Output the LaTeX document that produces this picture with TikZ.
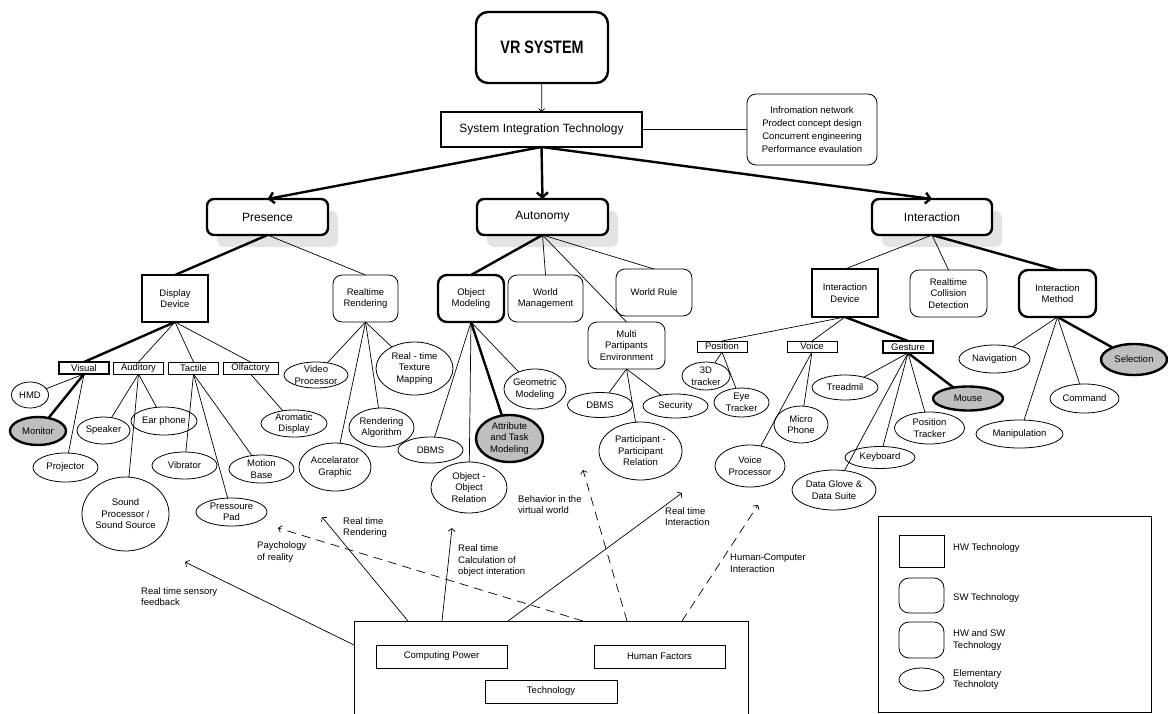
\documentclass[tikz,border=0pt]{standalone}
\usepackage{fontspec}
\setmainfont{Liberation Sans}
\newfontfamily\vrfont[FakeStretch=0.8]{Liberation Sans}
\usetikzlibrary{shapes.geometric,arrows.meta,shadows,positioning}

\tikzset{
  base/.style={inner sep=0pt, outer sep=0pt, align=center, font=\fontsize{9.5}{11.5}\selectfont},
  hw/.style={base, draw, rectangle, line width=0.8pt},
  hwthick/.style={hw, line width=2.4pt},
  sw/.style={base, draw, rectangle, rounded corners=9pt, line width=0.8pt},
  swthick/.style={sw, line width=2.4pt},
  sector/.style={swthick, fill=white, rounded corners=7pt, minimum width=121pt, minimum height=36pt,
    font=\fontsize{12}{14}\selectfont,
    general shadow={fill=black!11, shadow xshift=10pt, shadow yshift=-12pt}},
  sense/.style={hw, minimum width=50pt, minimum height=12pt},
  elem/.style={base, draw, ellipse, line width=0.8pt, inner xsep=-2pt, inner ysep=-5pt},
  keyelem/.style={elem, fill=black!25, line width=2.4pt},
  link/.style={line width=0.7pt},
  keylink/.style={line width=2.4pt},
  flow/.style={line width=0.7pt, -{Straight Barb[length=3pt,width=7pt]}},
  wish/.style={flow, dash pattern=on 9pt off 6pt},
  lbl/.style={anchor=west, align=left, inner sep=0pt, font=\fontsize{9.5}{11.5}\selectfont}
}

\begin{document}
\begin{tikzpicture}[x=1pt, y=-1pt]
\useasboundingbox (0,0) rectangle (1168,713);

% Top levels
\node[swthick, rounded corners=12pt, minimum width=132pt, minimum height=71pt,
  font=\vrfont\bfseries\fontsize{18}{20}\selectfont] (vr) at (542,47.5) {VR SYSTEM};
\node[hwthick, minimum width=201pt, minimum height=35pt, font=\fontsize{12}{14}\selectfont]
  (sit) at (541.5,129.5) {System Integration Technology};
\node[sw, minimum width=130pt, minimum height=71pt, font=\fontsize{9.5}{13}\selectfont]
  (info) at (812,129.5) {Infromation network\\Prodect concept design\\Concurrent engineering\\Performance evaulation};

\node[sector] (presence) at (267.5,217) {Presence};
\node[sector, minimum width=131pt] (autonomy) at (542.5,217) {Autonomy};
\node[sector, minimum width=120pt] (interaction) at (932,217) {Interaction};

% Technologies
\node[hwthick, minimum width=66pt, minimum height=47pt] (display) at (175,298.5) {Display\\Device};
\node[sw, minimum width=65pt, minimum height=47pt] (rrender) at (365.5,298.5) {Realtime\\Rendering};
\node[swthick, minimum width=66pt, minimum height=47pt] (objmod) at (471,298.5) {Object\\Modeling};
\node[sw, minimum width=75pt, minimum height=47pt] (worldman) at (545.5,298.5) {World\\Management};
\node[sw, minimum width=76pt, minimum height=47pt] (worldrule) at (654,292.5) {World Rule};
\node[sw, minimum width=77pt, minimum height=47pt] (multi) at (626.5,345.5) {Multi\\Partipants\\Environment};
\node[hwthick, minimum width=66pt, minimum height=48pt] (intdev) at (845,293) {Interaction\\Device};
\node[sw, minimum width=77pt, minimum height=47pt] (collision) at (948.5,293.5) {Realtime\\Collision\\Detection};
\node[swthick, minimum width=77pt, minimum height=47pt] (intmeth) at (1057.5,293.5) {Interaction\\Method};

% Senses and channels
\node[sense, line width=2pt] (visual) at (84,368) {Visual};
\node[sense] (auditory) at (138.5,368) {Auditory};
\node[sense] (tactile) at (193.5,368) {Tactile};
\node[sense, minimum width=55pt] (olfactory) at (250.5,368) {Olfactory};
\node[sense, minimum height=11pt] (position) at (722,346.5) {Position};
\node[sense, minimum height=11pt] (voice) at (812,346.5) {Voice};
\node[sense, line width=2pt] (gesture) at (908,347) {Gesture};

% Elementary technologies
\node[elem, minimum width=37pt, minimum height=26pt] (hmd) at (30,395) {HMD};
\node[keyelem, minimum width=56pt, minimum height=28pt] (monitor) at (38,431) {Monitor};
\node[elem, minimum width=65pt, minimum height=29pt] (projector) at (65.5,467.5) {Projector};
\node[elem, minimum width=53pt, minimum height=27pt] (speaker) at (103.5,430.5) {Speaker};
\node[elem, minimum width=66pt, minimum height=28pt] (earphone) at (164,421) {Ear phone};
\node[elem, minimum width=87pt, minimum height=74pt] (soundproc) at (125.5,514) {Sound\\Processor /\\Sound Source};
\node[elem, minimum width=65pt, minimum height=27pt] (vibrator) at (184.5,465.5) {Vibrator};
\node[elem, minimum width=71pt, minimum height=28pt] (pressoure) at (231.5,512) {Pressoure\\Pad};
\node[elem, minimum width=65pt, minimum height=28pt] (motionbase) at (261.5,469) {Motion\\Base};
\node[elem, minimum width=66pt, minimum height=27pt] (aromatic) at (294,423.5) {Aromatic\\Display};
\node[elem, minimum width=64pt, minimum height=26pt] (videoproc) at (316,375) {Video\\Processor};
\node[elem, minimum width=77pt, minimum height=53pt] (texture) at (414.5,368.5) {Real - time\\Texture\\Mapping};
\node[elem, minimum width=65pt, minimum height=39pt] (renderalg) at (381.5,427.5) {Rendering\\Algorithm};
\node[elem, minimum width=72pt, minimum height=48pt] (accel) at (335,467) {Accelarator\\Graphic};
\node[elem, minimum width=65pt, minimum height=26pt] (dbmsobj) at (430.5,450) {DBMS};
\node[elem, minimum width=76pt, minimum height=51pt] (objrel) at (469,487.5) {Object -\\Object\\Relation};
\node[keyelem, minimum width=67pt, minimum height=47pt] (attrib) at (509.5,438.5) {Attribute\\and Task\\Modeling};
\node[elem, minimum width=62pt, minimum height=40pt] (geometric) at (535,389) {Geometric\\Modeling};
\node[elem, minimum width=65pt, minimum height=25pt] (dbmsmulti) at (600,405) {DBMS};
\node[elem, minimum width=65pt, minimum height=24pt] (security) at (675.5,406) {Security};
\node[elem, minimum width=83pt, minimum height=58pt] (partrel) at (640.5,451) {Participant -\\Participant\\Relation};
\node[elem, minimum width=48pt, minimum height=28pt] (tracker) at (706,376) {3D\\tracker};
\node[elem, minimum width=55pt, minimum height=29pt] (eyetracker) at (741.5,402.5) {Eye\\Tracker};
\node[elem, minimum width=54pt, minimum height=37pt] (microphone) at (801,424.5) {Micro\\Phone};
\node[elem, minimum width=70pt, minimum height=42pt] (voiceproc) at (750,466) {Voice\\Processor};
\node[elem, minimum width=66pt, minimum height=25pt] (treadmil) at (845,387.5) {Treadmil};
\node[keyelem, minimum width=70pt, minimum height=24pt] (mouse) at (968,398.5) {Mouse};
\node[elem, minimum width=70pt, minimum height=32pt] (postracker) at (929.5,428) {Position\\Tracker};
\node[elem, minimum width=70pt, minimum height=22pt] (keyboard) at (880,457.5) {Keyboard};
\node[elem, minimum width=84pt, minimum height=40pt] (dataglove) at (834,490) {Data Glove \&\\Data Suite};
\node[elem, minimum width=71pt, minimum height=28pt] (navigation) at (994.5,359) {Navigation};
\node[keyelem, minimum width=66pt, minimum height=31pt] (selection) at (1134,359.5) {Selection};
\node[elem, minimum width=69pt, minimum height=29pt] (command) at (1084.5,398.5) {Command};
\node[elem, minimum width=87pt, minimum height=28pt] (manipulation) at (1019.5,434) {Manipulation};

% Hierarchy links
\draw[link, -{Straight Barb[length=3pt,width=6pt]}] (vr) -- (sit);
\foreach \c in {presence,autonomy,interaction}
  \draw[keylink, -{Straight Barb[length=5pt,width=11pt]}] (sit.south) -- (\c.north);
\draw[link] (sit) -- (info);

\draw[keylink] (presence.south) -- (display.north);
\draw[link] (presence.south) -- (rrender.north);
\draw[keylink] (autonomy.south) -- (objmod.north);
\foreach \c in {worldman,worldrule,multi}
  \draw[link] (autonomy.south) -- (\c.north);
\foreach \c in {intdev,collision}
  \draw[link] (interaction.south) -- (\c.north);
\draw[keylink] (interaction.south) -- (intmeth.north);

\draw[keylink] (display.south) -- (visual.north);
\foreach \c in {auditory,tactile,olfactory}
  \draw[link] (display.south) -- (\c.north);
\foreach \c in {position,voice}
  \draw[link] (intdev.south) -- (\c.north);
\draw[keylink] (intdev.south) -- (gesture.north);

\foreach \c in {hmd,projector}
  \draw[link] (visual.south) -- (\c);
\draw[keylink] (visual.south) -- (monitor);
\foreach \c in {speaker,soundproc,earphone}
  \draw[link] (auditory.south) -- (\c);
\foreach \c in {vibrator,pressoure,motionbase}
  \draw[link] (tactile.south) -- (\c);
\draw[link] (olfactory.south) -- (aromatic);
\foreach \c in {videoproc,accel,renderalg,texture}
  \draw[link] (rrender.south) -- (\c);
\foreach \c in {dbmsobj,objrel,geometric}
  \draw[link] (objmod.south) -- (\c);
\draw[keylink] (objmod.south) -- (attrib);
\foreach \c in {dbmsmulti,partrel,security}
  \draw[link] (multi.south) -- (\c);
\foreach \c in {tracker,eyetracker}
  \draw[link] (position.south) -- (\c);
\foreach \c in {microphone,voiceproc}
  \draw[link] (voice.south) -- (\c);
\foreach \c in {treadmil,dataglove,keyboard,postracker}
  \draw[link] (gesture.south) -- (\c);
\draw[keylink] (gesture.south) -- (mouse);
\foreach \c in {navigation,manipulation,command}
  \draw[link] (intmeth.south) -- (\c);
\draw[keylink] (intmeth.south) -- (selection);

% Base technology
\node[hw, minimum width=394pt, minimum height=140pt, anchor=north west] (techbox) at (354,621) {};
\node[hw, minimum width=131pt, minimum height=23pt] (computing) at (441.5,656.5) {Computing Power};
\node[hw, minimum width=131pt, minimum height=23pt] (human) at (659.5,656.5) {Human Factors};
\node[hw, minimum width=132pt, minimum height=23pt] (technology) at (551,691.5) {Technology};

% Requirements
\coordinate (tipSensory) at (185,562);
\coordinate (tipPsy) at (278,528);
\coordinate (tipRender) at (322,517);
\coordinate (tipCalc) at (452,528);
\coordinate (tipBehav) at (583,470);
\coordinate (tipInter) at (682,493);
\coordinate (tipHci) at (758,505);
\draw[flow] ([yshift=-24pt]techbox.north west) -- (tipSensory);
\draw[wish] ([xshift=229pt]techbox.north west) -- (tipPsy);
\draw[flow] ([xshift=54pt]techbox.north west) -- (tipRender);
\draw[flow] ([xshift=88pt]techbox.north west) -- (tipCalc);
\draw[wish] ([xshift=273pt]techbox.north west) -- (tipBehav);
\draw[flow] ([xshift=154pt]techbox.north west) -- (tipInter);
\draw[wish] ([xshift=328pt]techbox.north west) -- (tipHci);

\node[lbl] (lsensory) at (141,596.5) {Real time sensory\\feedback};
\node[lbl] (lpsy) at (257,552) {Paychology\\of reality};
\node[lbl] (lrender) at (343,527.5) {Real time\\Rendering};
\node[lbl] (lcalc) at (458,561) {Real time\\Calculation of\\object interation};
\node[lbl] (lbehav) at (518,504.5) {Behavior in the\\virtual world};
\node[lbl] (linter) at (665,516.5) {Real time\\Interaction};
\node[lbl] (lhci) at (730,563) {Human-Computer\\Interaction};

% Legend
\node[hw, minimum width=273pt, minimum height=196pt] (legend) at (1014.5,614) {};
\node[hw, minimum width=45pt, minimum height=32pt] (lhw) at (921.5,551) {};
\node[sw, rounded corners=10pt, minimum width=45pt, minimum height=35pt] (lsw) at (921.5,595.5) {};
\node[sw, rounded corners=10pt, minimum width=45pt, minimum height=36pt] (lhwsw) at (921.5,640) {};
\node[elem, minimum width=45pt, minimum height=23pt] (lel) at (921.5,679.5) {};
\node[lbl, right=9pt of lhw, yshift=3pt] (thw) {HW Technology};
\node[lbl, right=9pt of lsw, yshift=-2.5pt] (tsw) {SW Technology};
\node[lbl, right=9pt of lhwsw] (thwsw) {HW and SW\\Technology};
\node[lbl, right=9pt of lel] (tel) {Elementary\\Technoloty};
\end{tikzpicture}
\end{document}
